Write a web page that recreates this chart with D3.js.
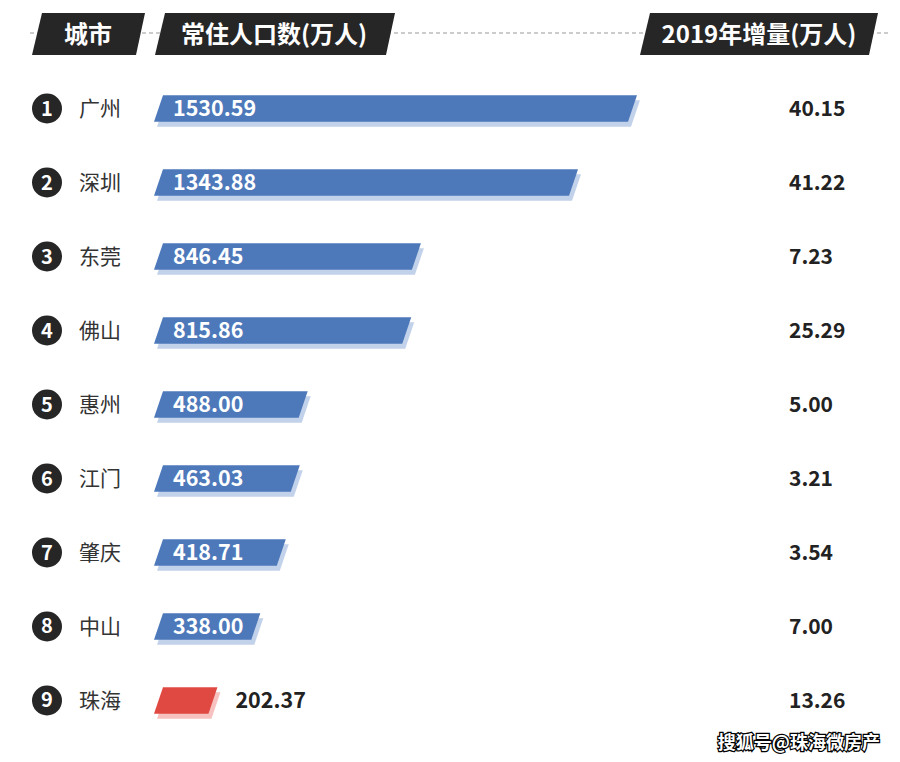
<!DOCTYPE html>
<html>
<head>
<meta charset="utf-8">
<script src="https://cdn.jsdelivr.net/npm/d3@7/dist/d3.min.js"></script>
<style>
  body { margin: 0; background: #fff; }
  svg { display: block; font-family: "Noto Sans CJK SC", "Noto Sans", sans-serif; }
</style>
</head>
<body>
<svg id="chart" width="900" height="762"></svg>
<script>
// data
var cities = ['广州', '深圳', '东莞', '佛山', '惠州', '江门', '肇庆', '中山', '珠海'];
var population = [1530.59, 1343.88, 846.45, 815.86, 488.00, 463.03, 418.71, 338.00, 202.37];
var growth = [40.15, 41.22, 7.23, 25.29, 5.00, 3.21, 3.54, 7.00, 13.26];
var headers = ['城市', '常住人口数(万人)', '2019年增量(万人)'];
var highlight = '珠海';

var svg = d3.select('#chart');

var y = d3.scaleBand().domain(cities).range([73, 736]).paddingInner(0.64).paddingOuter(0.3);
var x = d3.scaleLinear().domain([30, 1530.59]).range([0, 474]);

var barLeft = 154, skew = 9;

// header dashed line
svg.append('line')
  .attr('x1', 30).attr('x2', 890).attr('y1', 33).attr('y2', 33)
  .attr('stroke', '#999').attr('stroke-width', 1).attr('stroke-dasharray', '4,3');

// header bands
var headBands = [
  {x0: 32, x1: 145, cx: 88},
  {x0: 155, x1: 395, cx: 274},
  {x0: 640, x1: 878, cx: 759}
];
headBands.forEach(function (b, i) {
  svg.append('path')
    .attr('d', 'M' + b.x0 + ',55 L' + (b.x0 + 10) + ',13 L' + b.x1 + ',13 L' + (b.x1 - 9) + ',55 Z')
    .attr('fill', '#262626');
  svg.append('text')
    .attr('x', b.cx).attr('y', 43)
    .attr('text-anchor', 'middle')
    .attr('fill', '#fff')
    .attr('font-size', 24).attr('font-weight', 'bold')
    .text(headers[i]);
});

function para(x0, top, w, h) {
  return 'M' + x0 + ',' + (top + h) + ' L' + (x0 + skew) + ',' + top +
    ' L' + (x0 + skew + w) + ',' + top + ' L' + (x0 + w) + ',' + (top + h) + ' Z';
}

var rows = svg.selectAll('g.row')
  .data(cities)
  .enter()
  .append('g')
  .attr('class', 'row')
  .attr('transform', function (d) { return 'translate(0,' + y(d) + ')'; });

var bh = y.bandwidth();

// rank circles
rows.append('circle')
  .attr('cx', 47).attr('cy', bh / 2).attr('r', 15)
  .attr('fill', '#262626');
rows.append('text')
  .attr('x', 47).attr('y', bh / 2 + 7)
  .attr('text-anchor', 'middle')
  .attr('fill', '#fff').attr('font-size', 20).attr('font-weight', 'bold')
  .text(function (d, i) { return i + 1; });

// city names
rows.append('text')
  .attr('x', 79).attr('y', bh / 2 + 7.5)
  .attr('fill', '#333').attr('font-size', 21)
  .text(function (d) { return d; });

// bar shadows
rows.append('path')
  .attr('d', function (d, i) { return para(barLeft + 3, 5, x(population[i]), bh); })
  .attr('fill', function (d) { return d === highlight ? '#f6c1be' : '#c2d2ea'; });

// bars
rows.append('path')
  .attr('d', function (d, i) { return para(barLeft, 0, x(population[i]), bh); })
  .attr('fill', function (d) { return d === highlight ? '#e04842' : '#4d79ba'; });

// value labels
rows.append('text')
  .attr('x', function (d, i) { return d === highlight ? barLeft + skew + x(population[i]) + 18 : 173; })
  .attr('y', bh / 2 + 7.5)
  .attr('fill', function (d) { return d === highlight ? '#222' : '#fff'; })
  .attr('font-size', 21.5).attr('font-weight', 'bold')
  .text(function (d, i) { return population[i].toFixed(2); });

// growth values
rows.append('text')
  .attr('x', 789).attr('y', bh / 2 + 7.5)
  .attr('fill', '#222').attr('font-size', 21).attr('font-weight', 'bold')
  .text(function (d, i) { return growth[i].toFixed(2); });

// watermark
svg.append('text')
  .attr('x', 880).attr('y', 749)
  .attr('text-anchor', 'end')
  .attr('font-size', 18).attr('font-weight', 'bold')
  .attr('fill', '#fff').attr('stroke', '#000').attr('stroke-width', 2.5)
  .attr('paint-order', 'stroke')
  .text('搜狐号@珠海微房产');
</script>
</body>
</html>
